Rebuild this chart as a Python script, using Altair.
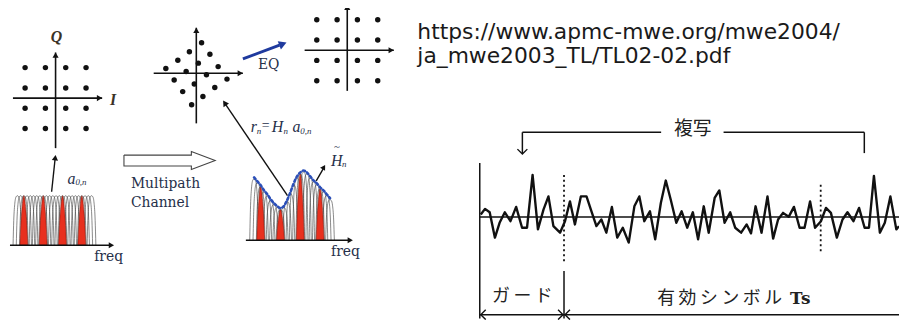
import math
import altair as alt
import pandas as pd

# ---------------- values ----------------
QAM_LEVELS = [-3, -1, 1, 3]                 # 16-QAM grid levels on I and Q
# received (rotated / scaled) constellation r_n = H_n a_0,n, same units as the grid
RX_I = [0.52, -0.68, 1.34, -1.82, 0.20, -3.00, -1.00, 2.15, 1.00, -2.18, 3.02, -0.20, -1.34, 1.82, 0.65, -0.46]
RX_Q = [3.00, 2.13, 1.87, 1.29, 1.00, 0.47, 0.18, 0.66, -0.15, -0.66, -0.57, -1.05, -1.80, -1.39, -2.29, -3.10]

N_CARRIERS = 24
PILOT_CARRIERS = [2, 8, 14, 20]             # red (pilot) sub-carriers
CHANNEL_GAIN = [1.24, 1.16, 1.08, 0.98, 0.90, 0.80, 0.72, 0.66, 0.62, 0.66, 0.78, 0.94,
                1.12, 1.26, 1.34, 1.38, 1.34, 1.26, 1.18, 1.12, 1.04, 0.98, 0.90, 0.82]

# OFDM time signal: sample time (from symbol start) and amplitude
WAVE_T = [1, 5.3, 10, 15.3, 20, 25.3, 31, 36.7, 42.7, 47.7,
          53.3, 58.7, 64.3, 69.3, 74.3, 81, 86, 91, 96, 102,
          107.7, 112.7, 117.7, 122.7, 127.7, 133.3, 138.7, 144.3, 150.3, 156,
          161, 166, 171.7, 177, 182.7, 187.7, 192.7, 198.3, 203.7, 209.3,
          215, 220.3, 226, 231, 237, 241.7, 247, 252.7, 257.7, 263.7,
          269.3, 273.7, 278.3, 284.3, 290.3, 296, 301, 306, 311.7, 317,
          322.7, 327.7, 333.3, 338.3, 344.3, 349.3, 354.3, 360.3, 366, 371,
          377, 382.7, 388.3, 392.7, 397.7, 403.7, 408.7, 414.3, 420.3, 423]
WAVE_AMP = [2.5, 8.2, 4.8, -20.8, -5.8, 4.8, -4.2, 10.2, -10.8, -10.8,
            42.5, -12.5, 7.5, 20.8, -9.2, -15.8, -4.2, 15.8, -7.5, 20.8,
            20.8, 5.8, -9.2, -2.5, -15.8, 10.2, -20.8, -10.8, -25.8, 10.8,
            20.8, -4.2, 5.8, -22.5, 14.2, 36.8, 17.5, -5.8, 5.8, -10.8,
            4.8, -22.5, 10.8, -15.8, 19.2, 26.8, -5.8, 4.8, -10.8, -15.8,
            -7.5, -16.5, 10.8, -15.8, 20.8, -21.8, -2.5, 4.2, 0.2, 10.2,
            -10.8, -10.8, 15.8, -10.8, -4.2, 9.2, 4.2, -20.8, -2.5, 4.8,
            -4.2, 9.2, -10.8, -10.8, 41.5, -15.8, -5.8, 20.8, -12.5, -9.2]
GUARD_LEN = 85          # guard interval length (same time units)
COPY_START, COPY_END = 43, 388
SECOND_MARK = 344

URL_LINES = ["https://www.apmc-mwe.org/mwe2004/", "ja_mwe2003_TL/TL02-02.pdf"]
LBL_COPY = "複写"
LBL_GUARD = "ガ\u2009ー\u2009ド"
LBL_USEFUL = "有\u2009効\u2009シ\u2009ン\u2009ボ\u2009ル"
LBL_TS = "Ts"

# ---------------- layout / style (positions on the canvas) ----------------
W, H = 899, 312
xs = alt.Scale(domain=[8, 907], nice=False, zero=False)
ys = alt.Scale(domain=[8, 320], nice=False, zero=False, reverse=True)

CONST_TX = (56, 97.5)
CONST_RX = (198, 72.5)
CONST_EQ = (350.3, 49.2)
UNIT = 10.25
SPEC_TX = dict(x0=17.5, dx=3.25, base=246, h=50)
SPEC_RX = dict(x0=256.3, dx=3.33, base=241, h=50)
WAVE_X0, WAVE_BASE = 484, 217.5

HUMP_DX = [-4.4, -3.7, -2.6, -1.3, 0, 1.3, 2.6, 3.7, 4.4]
HUMP_H = [0, 0.5, 0.85, 0.98, 1, 0.98, 0.85, 0.5, 0]
PILOT_DX = [-4.0, -3.1, -2.0, -0.9, 0, 0.9, 2.0, 3.1, 4.0]
PILOT_H = [0, 0.4, 0.72, 0.93, 1, 0.93, 0.72, 0.4, 0]

INK = "#111111"
NAVY = "#26304a"
SERIF = "DejaVu Serif"
ITAL = "Liberation Serif"


def X(f="x"):
    return alt.X(f"{f}:Q", scale=xs, axis=None)


def Y(f="y"):
    return alt.Y(f"{f}:Q", scale=ys, axis=None)


def segs(rows, **kw):
    df = pd.DataFrame(rows, columns=["x", "y", "x2", "y2"])
    return alt.Chart(df).mark_rule(**kw).encode(
        x=X(), y=Y(), x2=alt.X2("x2:Q"), y2=alt.Y2("y2:Q"))


def heads(rows, color=INK):
    # rows: tip x, tip y, angle (clockwise from up), size
    out = []
    for tx, ty, a, s in rows:
        h = 0.866 * math.sqrt(s) / 2
        r = math.radians(a)
        out.append((tx - h * math.sin(r), ty + h * math.cos(r), a, s))
    df = pd.DataFrame(out, columns=["x", "y", "ang", "size"])
    return alt.Chart(df).mark_point(shape="triangle-up", filled=True, color=color, opacity=1,
                                    strokeWidth=0).encode(
        x=X(), y=Y(), angle=alt.Angle("ang:Q", scale=None), size=alt.Size("size:Q", scale=None))


def chevrons(rows, sw=1.4):
    df = pd.DataFrame(rows, columns=["x", "y", "ang", "size"])
    return alt.Chart(df).mark_point(shape="M-1,-1L0,0L-1,1", filled=False, color=INK, opacity=1,
                                    strokeWidth=sw).encode(
        x=X(), y=Y(), angle=alt.Angle("ang:Q", scale=None), size=alt.Size("size:Q", scale=None))


def texts(rows, **kw):
    df = pd.DataFrame(rows, columns=["x", "y", "t"])
    return alt.Chart(df).mark_text(**kw).encode(x=X(), y=Y(), text="t:N")


layers = []

# ---- constellations ----
dots = []
for (cx, cy) in (CONST_TX, CONST_EQ):
    for i in QAM_LEVELS:
        for q in QAM_LEVELS:
            dots.append((cx + i * UNIT, cy - q * UNIT))
for i, q in zip(RX_I, RX_Q):
    dots.append((CONST_RX[0] + i * UNIT, CONST_RX[1] - q * UNIT))
layers.append(alt.Chart(pd.DataFrame(dots, columns=["x", "y"])).mark_circle(
    size=30, color=INK, opacity=1).encode(x=X(), y=Y()))

axis_rows, axis_heads = [], []
for (cx, cy), down in ((CONST_TX, 50.5), (CONST_RX, 50.5), (CONST_EQ, 41)):
    axis_rows.append((cx - 43, cy, cx + 47, cy))
    axis_rows.append((cx, cy + down, cx, cy - 46))
    axis_heads.append((cx + 47, cy, 90, 38))
    axis_heads.append((cx, cy - 46, 0, 38))
layers.append(segs(axis_rows, color=INK, strokeWidth=1.6))
layers.append(heads(axis_heads))

# ---- spectra ----
def hump_frame(spec, gains, carriers, tdx, th):
    rows = []
    for k in carriers:
        c = spec["x0"] + k * spec["dx"]
        g = gains[k]
        for dx, hh in zip(tdx, th):
            rows.append(dict(k=k, x=c + dx, y=spec["base"] - spec["h"] * g * hh,
                             y0=spec["base"]))
    return pd.DataFrame(rows)


for spec, gains in ((SPEC_TX, [1.0] * N_CARRIERS), (SPEC_RX, CHANNEL_GAIN)):
    allc = hump_frame(spec, gains, range(N_CARRIERS), HUMP_DX, HUMP_H)
    pil = hump_frame(spec, gains, PILOT_CARRIERS, PILOT_DX, PILOT_H)
    layers.append(alt.Chart(allc).mark_line(
        interpolate="monotone", color="#3a3a3a", strokeWidth=0.6).encode(
        x=X(), y=Y(), detail="k:N"))
    layers.append(alt.Chart(pil).mark_area(
        interpolate="monotone", color="#e8301e", opacity=1, stroke="#6a1208",
        strokeWidth=0.5).encode(
        x=X(), y=Y(), y2=alt.Y2("y0:Q"), detail="k:N"))

env = pd.DataFrame(dict(
    x=[SPEC_RX["x0"] + k * SPEC_RX["dx"] for k in range(N_CARRIERS)],
    y=[SPEC_RX["base"] - SPEC_RX["h"] * g - 1.5 for g in CHANNEL_GAIN]))
layers.append(alt.Chart(env).mark_line(
    interpolate="monotone", color="#2b4fb8", strokeWidth=2.6, strokeDash=[2.2, 2.6],
    strokeCap="round").encode(x=X(), y=Y()))

layers.append(segs([(10, SPEC_TX["base"], 112, SPEC_TX["base"]),
                    (248, SPEC_RX["base"], 353, SPEC_RX["base"])], color=INK, strokeWidth=1.4))
layers.append(heads([(115, SPEC_TX["base"], 90, 38), (356, SPEC_RX["base"], 90, 38)]))

# ---- connecting arrows ----
layers.append(segs([(52, 192, 55.5, 159), (290, 196, 227, 103), (319, 181, 326, 169)],
                   color=INK, strokeWidth=1.4))
layers.append(heads([(56, 155, 7, 40), (225, 100, 326, 44), (328, 165, 31, 34)]))
layers.append(segs([(245, 58, 282, 44)], color="#1f3a9e", strokeWidth=3))
layers.append(heads([(289, 41.5, 69, 80)], color="#1f3a9e"))

# hollow block arrow (Multipath Channel)
hollow = pd.DataFrame(dict(
    o=list(range(8)),
    x=[125, 193, 193, 217, 193, 193, 125, 125],
    y=[155, 155, 151.5, 160.5, 169.5, 166, 166, 155]))
layers.append(alt.Chart(hollow).mark_line(color="#444444", strokeWidth=1.1).encode(
    x=X(), y=Y(), order="o:Q"))

# ---- text of the left diagram ----
layers.append(texts([(57, 36, "Q"), (114, 99, "I")], font=ITAL, fontSize=16,
                    fontStyle="italic", fontWeight="bold", color="#3b3226"))
layers.append(texts([(68, 179, "a"), (253, 127, "r"), (274, 127, "H"), (295, 127, "a"),
                     (334, 161, "H")],
                    font=ITAL, fontSize=16, fontStyle="italic", color=NAVY, align="left"))
layers.append(texts([(76, 182, "0,n"), (259, 131, "n"), (286, 131, "n"), (303, 131, "0,n"),
                     (345, 164, "n")],
                    font=ITAL, fontSize=9, fontStyle="italic", color=NAVY, align="left"))
layers.append(texts([(264, 126, "=")], font=ITAL, fontSize=14, color=NAVY, align="left"))
layers.append(texts([(340, 147, "~")], font=ITAL, fontSize=11, color=NAVY))
layers.append(texts([(271, 64, "EQ")], font=SERIF, fontSize=14, color=NAVY))
layers.append(texts([(132, 184, "Multipath"), (132, 203, "Channel")], font=SERIF, fontSize=14,
                    color=NAVY, align="left"))
layers.append(texts([(95, 258, "freq"), (334, 253, "freq")], font=SERIF, fontSize=14,
                    color=NAVY, align="left"))

# ---- URL ----
layers.append(texts([(421, 38, URL_LINES[0]), (421, 62, URL_LINES[1])], font="DejaVu Sans",
                    fontSize=22, color="#1a1a1a", align="left", baseline="alphabetic"))

# ---- OFDM time signal panel ----
gx = WAVE_X0 + GUARD_LEN
layers.append(segs([(WAVE_X0, 163, WAVE_X0, 320),
                    (WAVE_X0, WAVE_BASE, 907, WAVE_BASE),
                    (gx, 272, gx, 320),
                    (WAVE_X0, 316, 907, 316),
                    (WAVE_X0 + COPY_START, 132, 667, 132),
                    (730, 132, WAVE_X0 + COPY_END, 132),
                    (WAVE_X0 + COPY_END, 132, WAVE_X0 + COPY_END, 153),
                    (WAVE_X0 + COPY_START, 132, WAVE_X0 + COPY_START, 153)],
                   color=INK, strokeWidth=1.5))
layers.append(segs([(gx, 175, gx, 263), (WAVE_X0 + SECOND_MARK, 185, WAVE_X0 + SECOND_MARK, 253)],
                   color=INK, strokeWidth=1.8, strokeDash=[2, 3]))
wave = pd.DataFrame(dict(x=[WAVE_X0 + t for t in WAVE_T],
                         y=[WAVE_BASE - a for a in WAVE_AMP]))
layers.append(alt.Chart(wave).mark_line(color=INK, strokeWidth=2.4, strokeJoin="round").encode(
    x=X(), y=Y()))
layers.append(chevrons([(WAVE_X0 + 1, 316, 180, 100), (gx - 1, 316, 0, 100), (gx + 1, 316, 180, 100),
                        (WAVE_X0 + COPY_START, 154, 90, 100)]))

JP = "Noto Sans CJK JP"
layers.append(texts([(699, 129, LBL_COPY)], font=JP, fontSize=19, color="#222222"))
layers.append(texts([(527, 298, LBL_GUARD), (726, 300, LBL_USEFUL)],
                    font=JP, fontSize=18, color="#222222"))
layers.append(texts([(797, 300, LBL_TS)], font=SERIF, fontSize=17, fontWeight="bold",
                    color="#222222", align="left"))

chart = alt.layer(*layers).properties(
    width=W, height=H, padding=0, autosize=alt.AutoSizeParams(type="none"),
    background="white"
).configure_view(stroke=None)

chart.save("out.html", embed_options={"renderer": "svg", "actions": False})
